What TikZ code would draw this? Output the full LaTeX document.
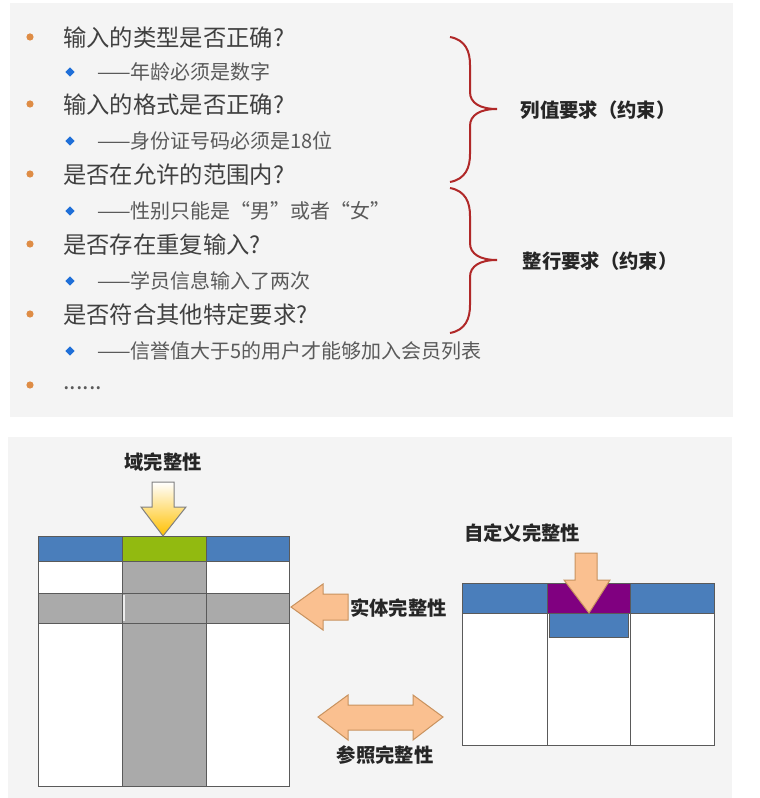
\documentclass[tikz,border=0pt]{standalone}
\usepackage{fontspec}
\setmainfont{Noto Sans CJK SC}
\newfontfamily\subfont{Noto Sans CJK SC}
\usetikzlibrary{shapes.geometric}
\definecolor{panel}{HTML}{F4F4F4}
\definecolor{maintxt}{HTML}{404040}
\definecolor{subtxt}{HTML}{5A5A5A}
\definecolor{labtxt}{HTML}{262626}
\definecolor{bulor}{HTML}{DE8C45}
\definecolor{bulblue}{HTML}{1F6FD8}
\definecolor{bracered}{HTML}{B02828}
\definecolor{hblue}{HTML}{4A7EBB}
\definecolor{hgreen}{HTML}{92BA10}
\definecolor{hpurple}{HTML}{800080}
\definecolor{cgray}{HTML}{AAAAAA}
\definecolor{tline}{HTML}{5A5A5A}
\definecolor{arrorange}{HTML}{FAC090}
\definecolor{arredge}{HTML}{C8925E}
\definecolor{arryellow}{HTML}{FFC000}
\tikzset{
  main/.style={anchor=west, inner sep=0pt, text=maintxt, font=\fontsize{17.5}{20}\selectfont},
  sub/.style={anchor=west, inner sep=0pt, text=subtxt, font=\subfont\fontsize{15}{18}\selectfont},
  lab/.style={inner sep=0pt, text=labtxt, font=\bfseries\fontsize{14.5}{17}\selectfont},
  dot/.style={circle, fill=bulor, minimum size=5.4pt, inner sep=0pt},
  dia/.style={diamond, fill=bulblue, minimum size=7pt, inner sep=0pt},
  brace/.style={draw=bracered, line width=1.5pt},
  tbl/.style={draw=tline, line width=0.75pt},
  arrblock/.style={fill=arrorange, draw=arredge, line width=0.75pt, line join=miter},
}
\begin{document}
\begin{tikzpicture}[x=0.75pt, y=-0.75pt]
\useasboundingbox (0,0) rectangle (759,798);
\fill[white] (0,0) rectangle (759,798);
% panels
\fill[panel] (10,3) rectangle (733,417);
\fill[panel] (8,437) rectangle (732,798);

% ---- top list ----
\node[dot] (b1) at (30,37) {};
\node[main] (t1) at (63,38) {输入的类型是否正确?};
\node[dia] (d1) at (70,72) {};
\node[sub] (s1) at (97,72) {——年龄必须是数字};
\node[dot] (b2) at (30,104) {};
\node[main] (t2) at (63,105) {输入的格式是否正确?};
\node[dia] (d2) at (70,141) {};
\node[sub] (s2) at (97,141) {——身份证号码必须是18位};
\node[dot] (b3) at (30,174) {};
\node[main] (t3) at (63,175) {是否在允许的范围内?};
\node[dia] (d3) at (70,211) {};
\node[sub] (s3) at (97,211) {——性别只能是“男”或者“女”};
\node[dot] (b4) at (30,244) {};
\node[main] (t4) at (63,245) {是否存在重复输入?};
\node[dia] (d4) at (70,281) {};
\node[sub] (s4) at (97,281) {——学员信息输入了两次};
\node[dot] (b5) at (30,314) {};
\node[main] (t5) at (63,315) {是否符合其他特定要求?};
\node[dia] (d5) at (70,351) {};
\node[sub] (s5) at (97,351) {——信誉值大于5的用户才能够加入会员列表};
\node[dot] (b6) at (30,385) {};
\node[main, text=subtxt] (t6) at (63,388) {......};

% braces
\draw[brace] (450,37) .. controls (466,40) and (470,52) .. (470,65) -- (470,92)
  .. controls (470,103) and (480,109) .. (497,109)
  .. controls (480,109) and (470,115) .. (470,126) -- (470,154)
  .. controls (470,167) and (466,179) .. (450,182);
\draw[brace] (450,188) .. controls (466,191) and (470,203) .. (470,216) -- (470,243)
  .. controls (470,254) and (480,260) .. (497,260)
  .. controls (480,260) and (470,266) .. (470,277) -- (470,305)
  .. controls (470,318) and (466,330) .. (450,333);
\node[lab] (c1) at (598,110) {列值要求（约束）};
\node[lab] (c2) at (600,261) {整行要求（约束）};

% ---- left table ----
\fill[hblue] (38,536) rectangle (122,561);
\fill[hgreen] (122,536) rectangle (206,561);
\fill[hblue] (206,536) rectangle (289,561);
\fill[white] (38,561) rectangle (289,786);
\fill[cgray] (122,561) rectangle (206,786);
\fill[cgray] (38,593) rectangle (289,623);
\draw[tbl] (38,536) rectangle (289,786);
\draw[tbl] (38,561) -- (289,561);
\draw[tbl] (38,593) -- (289,593);
\draw[tbl] (38,623) -- (289,623);
\draw[tbl] (122,536) -- (122,786);
\draw[tbl] (206,536) -- (206,786);
\draw[white!85!gray, line width=1pt] (124,595) -- (124,621);

% domain arrow
\shade[top color=white, bottom color=arryellow, draw=gray, line width=0.75pt]
  (152,482) -- (174,482) -- (174,507) -- (186,507) -- (163,536) -- (141,507) -- (152,507) -- cycle;
\node[lab] (l1) at (163,462) {域完整性};

% entity arrow
\draw[arrblock] (291,607) -- (323,584) -- (323,594) -- (348,594) -- (348,620) -- (323,620) -- (323,630) -- cycle;
\node[lab, anchor=west] (l2) at (350,608) {实体完整性};

% reference double arrow
\draw[arrblock] (318,717) -- (348,695) -- (348,705) -- (413,705) -- (413,695) -- (443,717)
  -- (413,740) -- (413,730) -- (348,730) -- (348,740) -- cycle;
\node[lab] (l3) at (385,755) {参照完整性};

% ---- right table ----
\fill[hblue] (462,583) rectangle (547,613);
\fill[hpurple] (547,583) rectangle (630,613);
\fill[hblue] (630,583) rectangle (714,613);
\fill[white] (462,613) rectangle (714,745);
\draw[tbl] (462,583) rectangle (714,745);
\draw[tbl] (462,613) -- (714,613);
\draw[tbl] (547,583) -- (547,745);
\draw[tbl] (630,583) -- (630,745);
\filldraw[fill=hblue, draw=tline, line width=0.75pt] (549,613) rectangle (628,637);

% user-defined arrow
\draw[arrblock] (575,553) -- (597,553) -- (597,580) -- (610,580) -- (589,613) -- (564,580) -- (575,580) -- cycle;
\node[lab] (l4) at (522,533) {自定义完整性};
\end{tikzpicture}
\end{document}
